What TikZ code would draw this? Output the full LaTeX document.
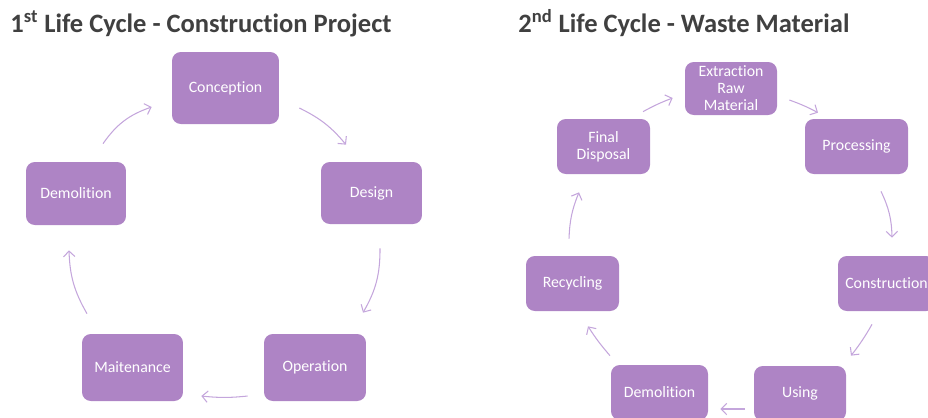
\documentclass[tikz,border=0pt]{standalone}
\usepackage{fontspec}
\setmainfont{Carlito}[Ligatures=NoCommon]
\usepackage{xcolor}
\usepackage{tikz}
\usetikzlibrary{arrows.meta}
\definecolor{boxpurple}{RGB}{174,132,197}
\definecolor{arrowpurple}{RGB}{196,166,220}
\definecolor{titlegray}{RGB}{64,64,64}

\begin{document}
\begin{tikzpicture}[x=0.02cm, y=-0.02cm,
  box/.style={fill=boxpurple, rounded corners=5pt, text=white, font=\fontsize{9}{9.7}\selectfont, align=center, inner sep=0pt},
  ttl/.style={anchor=base west, inner sep=0pt, text=titlegray, font=\fontsize{15.1}{16}\selectfont\bfseries},
  arr/.style={draw=arrowpurple, line width=0.6pt, -{Straight Barb[length=3.2pt,width=6.5pt]}}]
\clip (0,0) rectangle (928,417);
\node[ttl] (t1) at (10,32) {1\textsuperscript{st} Life Cycle - Construction Project};
\node[ttl] (t2) at (518,32) {2\textsuperscript{nd} Life Cycle - Waste Material};
\node[box, minimum width=2.14cm, minimum height=1.44cm] (con) at (225.5,88) {Conception};
\node[box, minimum width=2.02cm, minimum height=1.24cm] (des) at (371.5,193) {Design};
\node[box, minimum width=2.0cm, minimum height=1.26cm] (dem) at (76,193.5) {Demolition};
\node[box, minimum width=2.02cm, minimum height=1.34cm] (mai) at (132.5,367.5) {Maitenance};
\node[box, minimum width=2.04cm, minimum height=1.34cm] (ope) at (315,367.5) {Operation};
\draw[arr] ([shift={(27,-18)}]dem.north) to[bend left=18] ([shift={(-20,19)}]con.west);
\draw[arr] ([shift={(20,20)}]con.east) to[bend left=12] ([shift={(-25.5,-17)}]des.north);
\draw[arr] ([shift={(8.5,24)}]des.south) to[bend left=15] ([shift={(48,-21)}]ope.north);
\draw[arr] ([shift={(-16,28.5)}]ope.west) to[bend left=6] ([shift={(18,28.5)}]mai.east);
\draw[arr] ([shift={(-45.5,-20)}]mai.north) to[bend left=14] ([shift={(-7,25)}]dem.south);
\node[box, minimum width=1.84cm, minimum height=1.06cm] (ext) at (731,88.5) {Extraction\\Raw\\Material};
\node[box, minimum width=1.86cm, minimum height=1.1cm] (fin) at (603.5,146.5) {Final\\Disposal};
\node[box, minimum width=2.06cm, minimum height=1.1cm] (pro) at (856.5,146.5) {Processing};
\node[box, minimum width=1.86cm, minimum height=1.1cm] (rec) at (572.5,283.5) {Recycling};
\node[box, minimum width=1.94cm, minimum height=1.1cm] (cst) at (886.5,283.5) {Construction};
\node[box, minimum width=1.84cm, minimum height=1.1cm] (usi) at (800,393.5) {Using};
\node[box, minimum width=1.94cm, minimum height=1.1cm] (dmw) at (659.5,392.5) {Demolition};
\draw[arr] ([shift={(39.5,-7)}]fin.north) to[bend left=4] ([shift={(-12,9.5)}]ext.west);
\draw[arr] ([shift={(12,11.5)}]ext.east) to[bend left=4] ([shift={(-38.5,-6)}]pro.north);
\draw[arr] ([shift={(24.5,17)}]pro.south) to[bend left=12] ([shift={(5.5,-18)}]cst.north);
\draw[arr] ([shift={(-14.5,13)}]cst.south) to[bend left=4] ([shift={(51,-10)}]usi.north);
\draw[arr] ([shift={(-9,15.5)}]usi.west) to ([shift={(12,16.5)}]dmw.east);
\draw[arr] ([shift={(-49.5,-9)}]dmw.north) to[bend left=4] ([shift={(15.5,15)}]rec.south);
\draw[arr] ([shift={(-3.5,-17)}]rec.north) to[bend left=10] ([shift={(-24.5,18)}]fin.south);
\end{tikzpicture}
\end{document}
